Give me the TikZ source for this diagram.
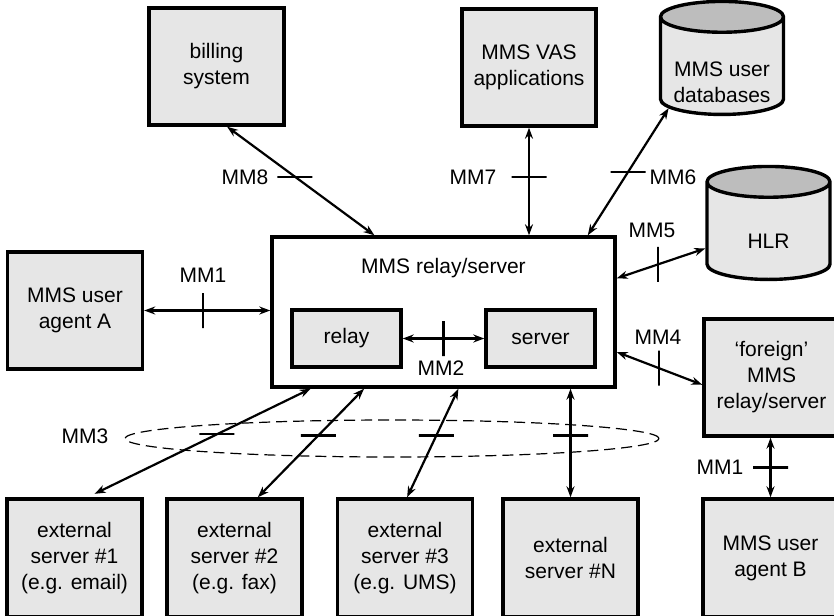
\documentclass[tikz,border=0pt]{standalone}
\usepackage{fontspec}
\setmainfont{Liberation Sans}
\usetikzlibrary{shapes.geometric,arrows.meta,positioning,calc}
\definecolor{MMSgray}{HTML}{E6E6E6}
\definecolor{MMSdark}{HTML}{BDBDBD}

\tikzset{
  unit/.style={draw, line width=1.7pt, fill=MMSgray, align=center, inner sep=0pt,
    minimum width=67.5pt, minimum height=58.5pt},
  store/.style={cylinder, shape border rotate=90, aspect=.28, draw, line width=1.7pt,
    cylinder uses custom fill, cylinder body fill=MMSgray, cylinder end fill=MMSdark,
    text width=55pt, inner sep=0pt, minimum width=61.5pt, minimum height=56.5pt},
  iface/.style={{Stealth[length=5.5pt,width=4pt]}-{Stealth[length=5.5pt,width=4pt]},
    line width=1.1pt},
  tickh/.style={draw, line width=1.1pt, minimum width=17.5pt, minimum height=0pt,
    inner sep=0pt},
  tickv/.style={tickh, minimum width=0pt, minimum height=17.5pt},
}

\begin{document}
\begin{tikzpicture}[x=0.5pt, y=-0.5pt, font=\fontsize{10.5}{13}\selectfont]
  \clip (0,0) rectangle (834,615);
  \useasboundingbox (0,0) rectangle (834,615);

  % top row
  \node[unit] (billing) at (216.5,66.5) {billing\\system};
  \node[unit, minimum width=67pt] (vas) at (529,67.5) {MMS VAS\\applications};
  \node[store, label={[align=center, yshift=-8pt]center:{MMS user\\databases}}]
    (userdb) at (722,66.5) {};
  \node[store, label={[yshift=-5pt]center:HLR}] (hlr) at (768.5,231.5) {};

  % relay/server in the middle
  \node[draw, line width=1.7pt, fill=white, minimum width=171.5pt,
    minimum height=75pt] (relsrv) at (443.5,312) {};
  \node (rstitle) at (443.5,268) {MMS relay/server};
  \node[unit, minimum width=54.5pt, minimum height=28.5pt] (relay) at (346.5,338.5) {relay};
  \node[unit, minimum width=54.5pt, minimum height=28.5pt] (server) at (540.5,338.5) {server};

  % sides
  \node[unit] (agentA) at (75,310.5) {MMS user\\agent A};
  \node[unit] (foreign) at (771.5,377.5) {‘foreign’\\MMS\\relay/server};

  % bottom row
  \node[unit, minimum height=59pt] (ext1) at (74.5,558) {external\\server \#1\\(e.g. email)};
  \node[unit, minimum height=59pt] (ext2) at (234.5,558) {external\\server \#2\\(e.g. fax)};
  \node[unit, minimum height=59pt] (ext3) at (405,558) {external\\server \#3\\(e.g. UMS)};
  \node[unit, minimum height=59pt] (extN) at (570.5,558) {external\\server \#N};
  \node[unit, minimum height=59pt] (agentB) at (770.5,558) {MMS user\\agent B};

  \node[draw, dashed, dash pattern=on 5.5pt off 3pt, ellipse, line width=.6pt,
    minimum width=267pt, minimum height=18.5pt, inner sep=0pt] (mm3ring) at (392,438.5) {};

  % interfaces
  \draw[iface] (billing.-80) -- node[tickh, pos=.46] {} (relsrv.132);
  \draw[iface] (vas.south) -- node[tickh, pos=.46] {} (vas.south |- relsrv.north);
  \draw[iface] (userdb.218) -- node[tickh, pos=.5] {} (relsrv.28);
  \draw[iface] (relsrv.11.5) -- node[tickv, pos=.47] {} (hlr.195);
  \draw[iface] (relsrv.-13.4) -- node[tickv, pos=.49] {} (foreign.186);
  \draw[iface] (agentA.east) -- node[tickv, pos=.465] {} (agentA.east -| relsrv.west);
  \draw[iface] (relay.east) -- node[tickv, pos=.5] {} (server.west);
  \draw[iface, shorten >=4pt] (relsrv.210) -- node[tickh, pos=.42] {} (ext1.78);
  \draw[iface] (relsrv.224) -- node[tickh, pos=.43] {} (ext2.69);
  \draw[iface] (relsrv.281) -- node[tickh, pos=.43] {} (ext3.88);
  \draw[iface] (extN.north |- relsrv.south) -- node[tickh, pos=.43] {} (extN.north);
  \draw[iface] (agentB.north |- foreign.south) -- node[tickh, pos=.5] {} (agentB.north);

  % labels
  \node (l8) at (245,177) {MM8};
  \node (l7) at (473,177) {MM7};
  \node (l6) at (673,177) {MM6};
  \node (l5) at (652,230) {MM5};
  \node (l4) at (658,337) {MM4};
  \node (l1a) at (203,275) {MM1};
  \node (l2) at (441,368) {MM2};
  \node (l3) at (85,436) {MM3};
  \node (l1b) at (720,467) {MM1};
\end{tikzpicture}
\end{document}
